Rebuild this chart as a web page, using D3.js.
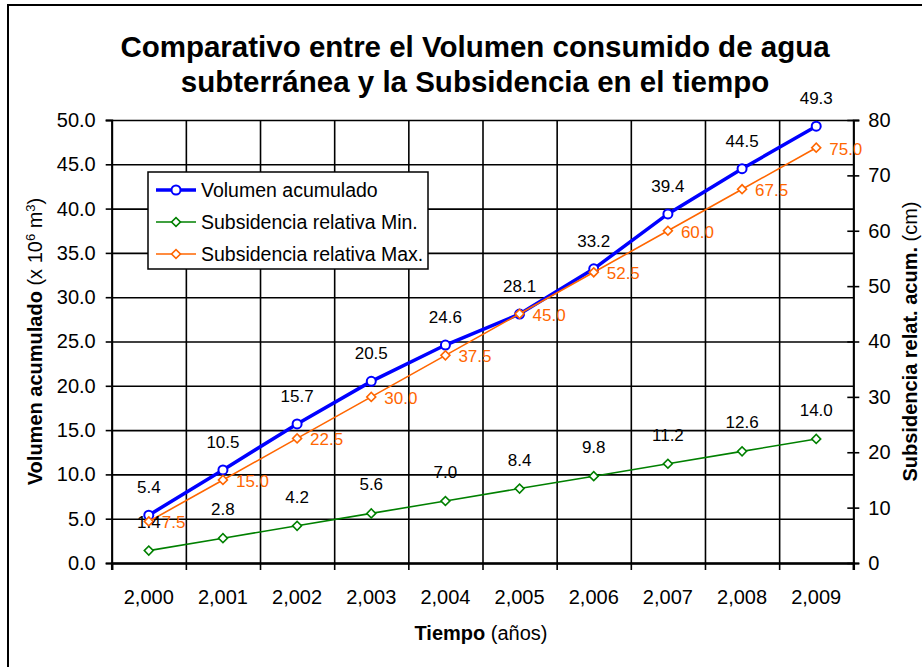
<!DOCTYPE html>
<html>
<head>
<meta charset="utf-8">
<script src="https://cdn.jsdelivr.net/npm/d3@7"></script>
<style>
  body { margin: 0; background: #fff; }
  svg { display: block; font-family: "Liberation Sans", Arial, sans-serif; }
</style>
</head>
<body>
<svg id="chart" width="922" height="667"></svg>
<script>
"use strict";

// values
let years = [2000, 2001, 2002, 2003, 2004, 2005, 2006, 2007, 2008, 2009];
let volumen = [5.4, 10.5, 15.7, 20.5, 24.6, 28.1, 33.2, 39.4, 44.5, 49.3];
let subsMin = [1.4, 2.8, 4.2, 5.6, 7.0, 8.4, 9.8, 11.2, 12.6, 14.0];
let subsMax = [7.5, 15.0, 22.5, 30.0, 37.5, 45.0, 52.5, 60.0, 67.5, 75.0];
let leftTicks = [0, 5, 10, 15, 20, 25, 30, 35, 40, 45, 50];
let rightTicks = [0, 10, 20, 30, 40, 50, 60, 70, 80];
let seriesNames = ["Volumen acumulado", "Subsidencia relativa Min.", "Subsidencia relativa Max."];

let ComparativoChart = function () {
  let self = {
    svg: d3.select("#chart"),
    width: 922,
    height: 667,
    chartMargins: {
      top: 120,
      right: 68.7,
      bottom: 104,
      left: 111.7
    },
    colors: { vol: "#0000ff", min: "#008000", max: "#ff6600" },
    labelSize: 17,
    tickSize: 20
  };

  let m = self.chartMargins;
  let plotW = self.width - m.left - m.right;
  let plotH = self.height - m.top - m.bottom;

  let xScale = d3.scaleBand().domain(years).range([m.left, m.left + plotW]);
  let xEdge = d3.scaleLinear().domain([0, years.length]).range([m.left, m.left + plotW]);
  let yLeft = d3.scaleLinear().domain([0, 50]).range([m.top + plotH, m.top]);
  let yRight = d3.scaleLinear().domain([0, 80]).range([m.top + plotH, m.top]);
  let cx = (d, i) => xScale(years[i]) + xScale.bandwidth() / 2;

  function drawFrame() {
    self.svg.append("rect")
      .attr("x", 8).attr("y", 5).attr("width", 940).attr("height", 720)
      .style("fill", "#fff").style("stroke", "#000").style("stroke-width", 2);

    let title = self.svg.append("text")
      .attr("text-anchor", "middle")
      .style("font-weight", "bold").style("font-size", "29.5px");
    title.append("tspan").attr("x", 475).attr("y", 57).text("Comparativo entre el Volumen consumido de agua");
    title.append("tspan").attr("x", 475).attr("y", 92).text("subterránea y la Subsidencia en el tiempo");
  }

  function drawGrid() {
    let grid = self.svg.append("g").classed("grid", true);

    grid.append("g")
      .attr("transform", `translate(${m.left},0)`)
      .call(d3.axisLeft(yLeft).tickValues(leftTicks).tickSize(-plotW).tickFormat(""))
      .call(g => g.select(".domain").remove())
      .selectAll("line").style("stroke", "#000").style("stroke-width", 1.6);

    grid.append("g")
      .attr("transform", `translate(0,${m.top})`)
      .call(d3.axisTop(xEdge).ticks(years.length).tickSize(-plotH).tickFormat(""))
      .call(g => g.select(".domain").remove())
      .selectAll("line").style("stroke", "#000").style("stroke-width", 1.6);
  }

  function drawAxes() {
    // left axis
    let left = self.svg.append("g")
      .attr("transform", `translate(${m.left},0)`)
      .call(d3.axisLeft(yLeft).tickValues(leftTicks).tickSize(6).tickPadding(10)
        .tickFormat(d3.format(".1f")));
    left.attr("font-size", null).attr("font-family", null);
    left.select(".domain").style("stroke-width", 2);
    left.selectAll(".tick line").style("stroke-width", 1.6);
    left.selectAll("text").style("font-size", self.tickSize + "px").style("fill", "#000");

    // right axis, ticks cross the line
    let right = self.svg.append("g")
      .attr("transform", `translate(${m.left + plotW},0)`)
      .call(d3.axisRight(yRight).tickValues(rightTicks).tickSize(6).tickPadding(9));
    right.attr("font-size", null).attr("font-family", null);
    right.select(".domain").style("stroke-width", 2);
    right.selectAll(".tick line").attr("x1", -6).style("stroke-width", 1.6);
    right.selectAll("text").style("font-size", self.tickSize + "px").style("fill", "#000");

    // bottom axis: ticks on category edges, labels in the middle
    let bottom = self.svg.append("g")
      .attr("transform", `translate(0,${m.top + plotH})`)
      .call(d3.axisBottom(xEdge).ticks(years.length).tickSize(7).tickFormat(""));
    bottom.select(".domain").style("stroke-width", 2.5);
    bottom.selectAll(".tick line").style("stroke-width", 1.6);

    let labels = self.svg.append("g")
      .attr("transform", `translate(0,${m.top + plotH})`)
      .call(d3.axisBottom(xScale).tickSize(0).tickPadding(0).tickFormat(d3.format(",")));
    labels.attr("font-size", null).attr("font-family", null);
    labels.select(".domain").remove();
    labels.selectAll("text").attr("y", 34).attr("dy", "0.35em")
      .style("font-size", self.tickSize + "px").style("fill", "#000");

    // axis titles
    let xt = self.svg.append("text").attr("x", 481).attr("y", 640)
      .attr("text-anchor", "middle").style("font-size", "20px");
    xt.append("tspan").style("font-weight", "bold").text("Tiempo");
    xt.append("tspan").text(" (años)");

    let yt = self.svg.append("text")
      .attr("transform", `translate(42,${m.top + plotH / 2}) rotate(-90)`)
      .attr("text-anchor", "middle").style("font-size", "20px");
    yt.append("tspan").style("font-weight", "bold").text("Volumen acumulado");
    yt.append("tspan").text("  (x 10");
    yt.append("tspan").attr("baseline-shift", "super").style("font-size", "13px").text("6");
    yt.append("tspan").text(" m");
    yt.append("tspan").attr("baseline-shift", "super").style("font-size", "13px").text("3");
    yt.append("tspan").text(")");

    let rt = self.svg.append("text")
      .attr("transform", `translate(917,${m.top + plotH / 2}) rotate(-90)`)
      .attr("text-anchor", "middle").style("font-size", "20px");
    rt.append("tspan").style("font-weight", "bold").text("Subsidencia relat. acum.");
    rt.append("tspan").text("  (cm)");
  }

  function drawSeries(values, yScale, color, width, marker) {
    let line = d3.line().x(cx).y(d => yScale(d));
    let g = self.svg.append("g");
    g.append("path").datum(values)
      .attr("d", line)
      .style("fill", "none").style("stroke", color).style("stroke-width", width);
    drawMarkers(g, values.map((d, i) => [cx(d, i), yScale(d)]), color, marker);
  }

  function drawMarkers(g, points, color, marker) {
    if (marker === "circle") {
      g.selectAll("circle").data(points).enter().append("circle")
        .attr("cx", d => d[0]).attr("cy", d => d[1]).attr("r", 4.5)
        .style("fill", "#fff").style("stroke", color).style("stroke-width", 2);
    } else {
      let diamond = d3.symbol().type(d3.symbolSquare).size(40);
      g.selectAll("path.mk").data(points).enter().append("path").classed("mk", true)
        .attr("d", diamond)
        .attr("transform", d => `translate(${d[0]},${d[1]}) rotate(45)`)
        .style("fill", "#fff").style("stroke", color).style("stroke-width", 1.6);
    }
  }

  function drawLabels() {
    let g = self.svg.append("g").style("font-size", self.labelSize + "px");

    g.selectAll(".lab-vol").data(volumen).enter().append("text")
      .attr("x", cx).attr("y", d => yLeft(d) - 28).attr("dy", "0.35em")
      .attr("text-anchor", "middle").style("fill", "#000")
      .text(d3.format(".1f"));

    g.selectAll(".lab-min").data(subsMin).enter().append("text")
      .attr("x", cx).attr("y", d => yLeft(d) - 29).attr("dy", "0.35em")
      .attr("text-anchor", "middle").style("fill", "#000")
      .text(d3.format(".1f"));

    g.selectAll(".lab-max").data(subsMax).enter().append("text")
      .attr("x", (d, i) => cx(d, i) + 13).attr("y", d => yRight(d) + 1).attr("dy", "0.35em")
      .style("fill", self.colors.max)
      .text(d3.format(".1f"));
  }

  function drawLegend() {
    let lg = self.svg.append("g").attr("transform", "translate(148,172)");
    lg.append("rect").attr("width", 280).attr("height", 97)
      .style("fill", "#fff").style("stroke", "#000").style("stroke-width", 1.5);

    let styles = [
      { color: self.colors.vol, width: 3.5, marker: "circle" },
      { color: self.colors.min, width: 1.6, marker: "diamond" },
      { color: self.colors.max, width: 1.6, marker: "diamond" }
    ];
    let rowY = d3.scalePoint().domain(seriesNames).range([18, 82]);

    seriesNames.forEach((name, i) => {
      let y = rowY(name);
      let row = lg.append("g");
      row.append("line").attr("x1", 8).attr("x2", 48).attr("y1", y).attr("y2", y)
        .style("stroke", styles[i].color).style("stroke-width", styles[i].width);
      drawMarkers(row, [[28, y]], styles[i].color, styles[i].marker);
      row.append("text").attr("x", 53).attr("y", y).attr("dy", "0.35em")
        .style("font-size", "19.5px").style("fill", "#000").text(name);
    });
  }

  function render() {
    drawFrame();
    drawGrid();
    drawAxes();
    drawSeries(volumen, yLeft, self.colors.vol, 3.5, "circle");
    drawSeries(subsMin, yLeft, self.colors.min, 1.6, "diamond");
    drawSeries(subsMax, yRight, self.colors.max, 1.6, "diamond");
    drawLabels();
    drawLegend();
  }

  return { render };
};

ComparativoChart().render();
</script>
</body>
</html>
